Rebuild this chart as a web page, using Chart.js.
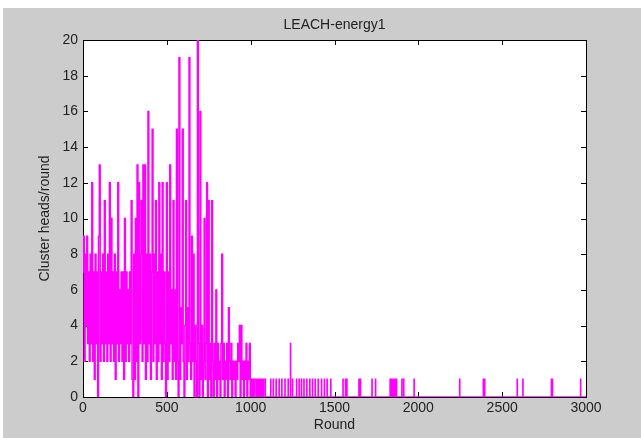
<!DOCTYPE html>
<html>
<head>
<meta charset="utf-8">
<title>LEACH-energy1</title>
<script src="https://cdn.jsdelivr.net/npm/chart.js@4.4.1/dist/chart.umd.min.js"></script>
<style>
  html, body { margin: 0; padding: 0; background: #ffffff; }
  #fig { position: absolute; left: 3px; top: 8px; background: #cccccc; }
</style>
</head>
<body>
<canvas id="fig" width="638" height="430"></canvas>
<script>
// cluster heads per round, every 5 rounds for rounds 0..1095
const denseStep = 5;
const denseHeads = [
  7, 9, 2, 8, 4, 9, 3, 7, 2, 8,      // 0-45
  3, 12, 2, 7, 1, 8, 3, 7, 0, 9,     // 50-95
  13, 2, 7, 3, 8, 2, 11, 3, 7, 2,    // 100-145
  8, 3, 12, 2, 10, 3, 7, 2, 8, 1,    // 150-195
  7, 3, 12, 2, 6, 3, 7, 2, 7, 1,     // 200-245
  10, 2, 7, 3, 6, 2, 7, 3, 11, 1,    // 250-295
  0, 8, 1, 10, 2, 13, 0, 12, 3, 8,   // 300-345
  11, 2, 13, 3, 13, 1, 8, 2, 16, 3,  // 350-395
  8, 1, 7, 15, 2, 8, 3, 11, 1, 7,    // 400-445
  2, 12, 3, 8, 1, 12, 2, 7, 3, 0,    // 450-495
  12, 1, 7, 2, 13, 3, 6, 1, 11, 2,   // 500-545
  6, 1, 15, 2, 0, 19, 1, 5, 3, 15,   // 550-595
  2, 0, 4, 11, 1, 5, 2, 19, 3, 1,    // 600-645
  9, 2, 8, 0, 4, 2, 0, 20, 3, 0,     // 650-695
  16, 1, 4, 0, 2, 10, 1, 3, 12, 0,   // 700-745
  11, 1, 3, 0, 11, 2, 0, 3, 1, 6,    // 750-795
  0, 3, 1, 2, 0, 3, 8, 1, 3, 0,      // 800-845
  2, 1, 3, 0, 5, 2, 1, 3, 0, 2,      // 850-895
  1, 2, 0, 2, 1, 3, 2, 4, 0, 4,      // 900-945
  1, 2, 0, 2, 1, 3, 0, 2, 1, 3,      // 950-995
  0, 1, 0, 1, 0, 1, 1, 0, 1, 0,      // 1000-1045
  1, 0, 1, 0, 1, 0, 1, 1, 0, 0       // 1050-1095
];

// after round ~1100 the count is 0 except for single-round spikes
const spikeRounds = [
  1120, 1135, 1152, 1170, 1186, 1205, 1224, 1238, 1250, 1274,
  1289, 1303, 1318, 1335, 1353, 1369, 1385, 1403, 1423, 1440,
  1456, 1478, 1551, 1566, 1574, 1646, 1655, 1724, 1745, 1832,
  1842, 1852, 1862, 1870, 1902, 1913, 1975, 2247, 2388, 2396,
  2590, 2624, 2794, 2800, 2968
];
const spikeHeads = [
  1, 1, 1, 1, 1, 1, 1, 3, 1, 1,
  1, 1, 1, 1, 1, 1, 1, 1, 1, 1,
  1, 1, 1, 1, 1, 1, 1, 1, 1, 1,
  1, 1, 1, 1, 1, 1, 1, 1, 1, 1,
  1, 1, 1, 1, 1
];
const lastRound = 3000;

const xTicks = [0, 500, 1000, 1500, 2000, 2500, 3000];
const yTicks = [0, 2, 4, 6, 8, 10, 12, 14, 16, 18, 20];

// build the point list
const points = [];
denseHeads.forEach((v, i) => points.push({ x: i * denseStep, y: v }));
spikeRounds.forEach((r, i) => {
  points.push({ x: r - 1, y: 0 });
  points.push({ x: r, y: spikeHeads[i] });
  points.push({ x: r + 1, y: 0 });
});
points.push({ x: lastRound, y: 0 });

const FONT = "'Liberation Sans', Arial, sans-serif";
const TXT = '#222222';

// MATLAB style box with inward ticks on all four sides
const boxPlugin = {
  id: 'boxPlugin',
  beforeDatasetsDraw(chart) {
    const { ctx, chartArea: a, scales } = chart;
    ctx.save();
    ctx.fillStyle = '#ffffff';
    ctx.fillRect(a.left, a.top, a.right - a.left, a.bottom - a.top);
    ctx.strokeStyle = '#000000';
    ctx.lineWidth = 1;
    ctx.strokeRect(Math.round(a.left) + 0.5, Math.round(a.top) + 0.5,
      Math.round(a.right - a.left), Math.round(a.bottom - a.top));
    const len = 5;
    ctx.beginPath();
    xTicks.forEach(t => {
      const px = Math.round(scales.x.getPixelForValue(t)) + 0.5;
      ctx.moveTo(px, a.bottom); ctx.lineTo(px, a.bottom - len);
      ctx.moveTo(px, a.top); ctx.lineTo(px, a.top + len);
    });
    yTicks.forEach(t => {
      const py = Math.round(scales.y.getPixelForValue(t)) + 0.5;
      ctx.moveTo(a.left, py); ctx.lineTo(a.left + len, py);
      ctx.moveTo(a.right, py); ctx.lineTo(a.right - len, py);
    });
    ctx.stroke();
    ctx.restore();
  }
};

new Chart(document.getElementById('fig'), {
  type: 'line',
  data: {
    datasets: [{
      label: 'Cluster heads',
      data: points,
      borderColor: '#ff00ff',
      borderWidth: 1.5,
      pointRadius: 0,
      stepped: 'middle',
      fill: false
    }]
  },
  options: {
    responsive: false,
    animation: false,
    events: [],
    layout: { padding: { left: 0, right: 55, top: 0, bottom: 0 } },
    plugins: {
      legend: { display: false },
      tooltip: { enabled: false },
      title: {
        display: true,
        fullSize: false,
        text: 'LEACH-energy1',
        color: TXT,
        font: { family: FONT, size: 14, weight: 'normal' },
        padding: { top: 8.6, bottom: 6.6 }
      }
    },
    scales: {
      x: {
        type: 'linear',
        min: 0,
        max: 3000,
        afterBuildTicks: s => { s.ticks = xTicks.map(v => ({ value: v })); },
        afterFit: s => { s.height = 41; },
        grid: { display: false, drawTicks: false },
        border: { display: false },
        ticks: {
          color: TXT, font: { family: FONT, size: 14 }, padding: 3, maxRotation: 0,
          callback: v => String(v)
        },
        title: {
          display: true, text: 'Round', color: TXT,
          font: { family: FONT, size: 14 }, padding: { top: 0, bottom: 4 }
        }
      },
      y: {
        type: 'linear',
        min: 0,
        max: 20,
        afterBuildTicks: s => { s.ticks = yTicks.map(v => ({ value: v })); },
        afterFit: s => { s.width = 80; },
        grid: { display: false, drawTicks: false },
        border: { display: false },
        ticks: { color: TXT, font: { family: FONT, size: 14 }, padding: 5, callback: v => String(v) },
        title: {
          display: true, text: 'Cluster heads/round', color: TXT,
          font: { family: FONT, size: 14 }, padding: { top: 33.6, bottom: 0 }
        }
      }
    }
  },
  plugins: [boxPlugin]
});
</script>
</body>
</html>
